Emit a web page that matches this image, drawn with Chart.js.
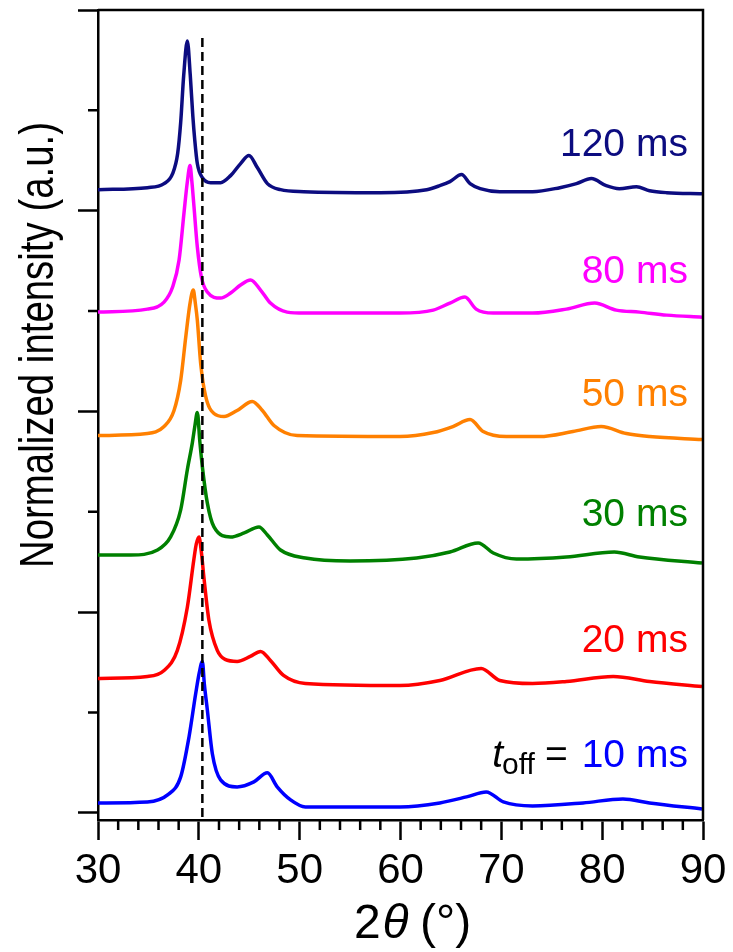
<!DOCTYPE html>
<html>
<head>
<meta charset="utf-8">
<script src="https://cdn.jsdelivr.net/npm/chart.js@4.4.0/dist/chart.umd.min.js"></script>
<style>
  body { margin: 0; background: #fff; }
  canvas { display: block; }
</style>
</head>
<body>
<canvas id="xrd" width="733" height="952"></canvas>
<script>
// off-times, top trace first
const offTimes = ['120 ms', '80 ms', '50 ms', '30 ms', '20 ms', '10 ms'];
const colors = ['#0c0c80', '#ff00ff', '#ff8000', '#008000', '#ff0000', '#0000ff'];

// 2theta (deg) and offset normalized intensity for each pattern
const tt120 = [30, 34.9, 36.55, 37.4, 37.9, 38.2, 38.5, 38.86, 39.15, 39.4, 39.6, 39.85, 40.35, 41.17, 42.16, 43.15, 44.14, 44.97, 45.8, 46.8, 48.1, 50.4, 58, 62.6, 63.9, 64.9, 66.06, 66.9, 67.9, 69.85, 73.1, 75.8, 77.45, 78.93, 80.4, 81.7, 83.4, 84.7, 86.4, 89.9];
const int120 = [6.21, 6.23, 6.27, 6.37, 6.57, 6.88, 7.35, 7.69, 7.35, 6.95, 6.7, 6.47, 6.33, 6.28, 6.28, 6.35, 6.47, 6.55, 6.43, 6.27, 6.21, 6.19, 6.18, 6.21, 6.25, 6.29, 6.36, 6.27, 6.22, 6.19, 6.19, 6.23, 6.27, 6.32, 6.25, 6.22, 6.24, 6.20, 6.18, 6.17];

const tt80 = [30, 34.9, 36.55, 37.4, 38.04, 38.53, 38.85, 39.13, 39.32, 39.52, 39.85, 40.25, 40.84, 42.16, 43.15, 44.14, 45.13, 46.12, 47.1, 48.76, 50.5, 59.95, 63.25, 64.9, 66.39, 67.5, 69.2, 73.1, 76.45, 79.26, 81.4, 83.7, 86.4, 89.9];
const int80 = [4.99, 5.02, 5.09, 5.24, 5.51, 5.98, 6.28, 6.45, 6.28, 6.04, 5.64, 5.34, 5.19, 5.13, 5.18, 5.26, 5.31, 5.21, 5.08, 4.99, 4.98, 4.98, 5.01, 5.08, 5.14, 5.02, 4.98, 4.98, 5.02, 5.08, 5.01, 4.99, 4.96, 4.94];

const tt50 = [30, 34.9, 36.55, 37.54, 38.2, 38.7, 39.13, 39.45, 39.65, 39.85, 40.18, 40.68, 41.5, 42.5, 43.8, 45.3, 46.3, 47.45, 49.75, 59.95, 63.25, 65.2, 66.9, 68.2, 70.5, 73.8, 77.1, 79.9, 82.4, 84.7, 89.9];
const int50 = [3.76, 3.78, 3.85, 4.01, 4.31, 4.74, 5.08, 5.21, 5.08, 4.91, 4.48, 4.15, 3.98, 3.95, 4.01, 4.10, 4.01, 3.86, 3.76, 3.75, 3.79, 3.85, 3.92, 3.80, 3.75, 3.75, 3.80, 3.85, 3.78, 3.75, 3.72];

const tt30 = [30, 33.25, 35.9, 37.2, 38.2, 38.86, 39.36, 39.6, 39.85, 40.1, 40.35, 40.84, 41.5, 43.15, 44.5, 45.96, 46.8, 48.1, 50.57, 55, 61.6, 64.9, 67.7, 69.2, 71.5, 76.45, 81.2, 83.7, 89.9];
const int30 = [2.57, 2.57, 2.62, 2.75, 3.02, 3.42, 3.69, 3.85, 3.99, 3.70, 3.45, 3.09, 2.85, 2.75, 2.79, 2.85, 2.77, 2.62, 2.54, 2.51, 2.54, 2.60, 2.69, 2.59, 2.53, 2.55, 2.60, 2.55, 2.49];

const tt20 = [30, 34.9, 36.55, 37.87, 38.86, 39.5, 39.75, 40.02, 40.25, 40.5, 41.0, 41.83, 42.6, 43.8, 45.1, 46.12, 47.1, 48.4, 50.57, 59.95, 63.9, 68.0, 69.85, 73.1, 76.45, 81.1, 84.7, 89.9];
const int20 = [1.34, 1.36, 1.42, 1.62, 2.05, 2.52, 2.68, 2.75, 2.60, 2.35, 1.92, 1.62, 1.53, 1.51, 1.56, 1.61, 1.52, 1.37, 1.29, 1.27, 1.32, 1.44, 1.32, 1.29, 1.31, 1.36, 1.31, 1.26];

const tt10 = [30, 34.9, 36.9, 38.2, 39.03, 39.69, 40.05, 40.35, 40.55, 40.84, 41.34, 42.16, 43.8, 45.46, 46.8, 47.77, 49.1, 50.57, 59.95, 63.9, 66.55, 68.5, 70.2, 73.1, 78.1, 82.06, 84.7, 89.9];
const int10 = [0.10, 0.11, 0.18, 0.36, 0.76, 1.19, 1.40, 1.51, 1.28, 1.03, 0.59, 0.33, 0.26, 0.31, 0.40, 0.26, 0.13, 0.06, 0.06, 0.10, 0.16, 0.21, 0.11, 0.07, 0.10, 0.14, 0.10, 0.04];

const patterns = [[tt120, int120], [tt80, int80], [tt50, int50], [tt30, int30], [tt20, int20], [tt10, int10]];

// axis ticks
const xMajor = [30, 40, 50, 60, 70, 80, 90];
const xMinor = [32, 34, 36, 38, 42, 44, 46, 48, 52, 54, 56, 58, 62, 64, 66, 68, 72, 74, 76, 78, 82, 84, 86, 88];
const yMajor = [0, 2, 4, 6, 8];
const yMinor = [1, 3, 5, 7];
const yMin = -0.07, yMax = 8;

// dashed reference position and its top end
const refLineX = 40.35;
const refLineTop = 7.72;

// label anchors (right edge / baseline, data units)
const labelX = 88.5;
const labelY = [6.55, 5.28, 4.05, 2.86, 1.60, 0.46];

const FONT = '"Liberation Sans", Arial, Helvetica, sans-serif';

const datasets = [{
  data: [{ x: refLineX, y: refLineTop }, { x: refLineX, y: yMin }],
  borderColor: '#000',
  borderWidth: 2.5,
  borderDash: [9, 5],
  pointRadius: 0
}];
patterns.forEach(([tt, inten], i) => {
  datasets.push({
    label: offTimes[i],
    data: tt.map((t, k) => ({ x: t, y: inten[k] })),
    borderColor: colors[i],
    borderWidth: 3.5,
    pointRadius: 0,
    cubicInterpolationMode: 'monotone'
  });
});

const frame = {
  id: 'frame',
  afterDraw(chart) {
    const { ctx, chartArea: a, scales: { x, y } } = chart;
    ctx.save();
    ctx.strokeStyle = '#000';
    ctx.lineWidth = 2.5;
    ctx.beginPath();
    ctx.moveTo(a.left, a.top);
    ctx.lineTo(a.right, a.top);
    ctx.lineTo(a.right, a.bottom);
    xMinor.forEach(v => {
      const px = x.getPixelForValue(v);
      ctx.moveTo(px, a.bottom);
      ctx.lineTo(px, a.bottom + 10);
    });
    yMinor.forEach(v => {
      const py = y.getPixelForValue(v);
      ctx.moveTo(a.left, py);
      ctx.lineTo(a.left - 10, py);
    });
    ctx.stroke();

    // trace labels
    ctx.font = '39px ' + FONT;
    ctx.textAlign = 'right';
    ctx.textBaseline = 'alphabetic';
    const lx = x.getPixelForValue(labelX);
    offTimes.forEach((t, i) => {
      ctx.fillStyle = colors[i];
      ctx.fillText(t, lx, y.getPixelForValue(labelY[i]));
    });

    // "t_off =" in front of the bottom label
    const by = y.getPixelForValue(labelY[5]);
    let cx = lx - ctx.measureText(offTimes[5]).width - 14;
    ctx.fillStyle = '#000';
    ctx.fillText('=', cx, by);
    cx -= ctx.measureText('=').width + 10;
    ctx.font = '30px ' + FONT;
    ctx.fillText('off', cx, by + 7);
    cx -= ctx.measureText('off').width - 1;
    ctx.font = 'italic 39px ' + FONT;
    ctx.fillText('t', cx, by);

    // x title: 2θ (°)
    ctx.textAlign = 'left';
    const reg = '48px ' + FONT, ital = 'italic 48px ' + FONT;
    ctx.font = reg;
    const w1 = ctx.measureText('2').width, w3 = ctx.measureText(' (°)').width;
    ctx.font = ital;
    const w2 = ctx.measureText('θ').width;
    let tx = (a.left + a.right) / 2 + 12 - (w1 + w2 + w3) / 2;
    const ty = 938;
    ctx.font = reg; ctx.fillText('2', tx, ty); tx += w1;
    ctx.font = ital; ctx.fillText('θ', tx + 2, ty); tx += w2;
    ctx.font = reg; ctx.fillText(' (°)', tx, ty);

    // y title, narrow set
    ctx.translate(53, 345);
    ctx.rotate(-Math.PI / 2);
    ctx.scale(0.8, 1);
    ctx.textAlign = 'center';
    ctx.font = reg;
    ctx.fillText('Normalized intensity (a.u.)', 0, 0);
    ctx.restore();
  }
};

new Chart(document.getElementById('xrd'), {
  type: 'line',
  data: { datasets },
  plugins: [frame],
  options: {
    responsive: false,
    animation: false,
    devicePixelRatio: 1,
    layout: { padding: { top: 10, right: 30, left: 0, bottom: 0 } },
    plugins: { legend: { display: false }, tooltip: { enabled: false } },
    scales: {
      x: {
        type: 'linear',
        min: 30,
        max: 90,
        afterBuildTicks: axis => { axis.ticks = xMajor.map(v => ({ value: v })); },
        afterFit: axis => { axis.height = 132; },
        border: { color: '#000', width: 2.5 },
        grid: { drawOnChartArea: false, tickLength: 20, tickWidth: 2.5, tickColor: '#000' },
        ticks: { color: '#000', font: { family: FONT, size: 42 }, padding: 6, maxRotation: 0 }
      },
      y: {
        type: 'linear',
        min: yMin,
        max: yMax,
        afterBuildTicks: axis => { axis.ticks = yMajor.map(v => ({ value: v })); },
        afterFit: axis => { axis.width = 98; },
        border: { color: '#000', width: 2.5 },
        grid: { drawOnChartArea: false, tickLength: 20, tickWidth: 2.5, tickColor: '#000' },
        ticks: { display: false }
      }
    }
  }
});
</script>
</body>
</html>
